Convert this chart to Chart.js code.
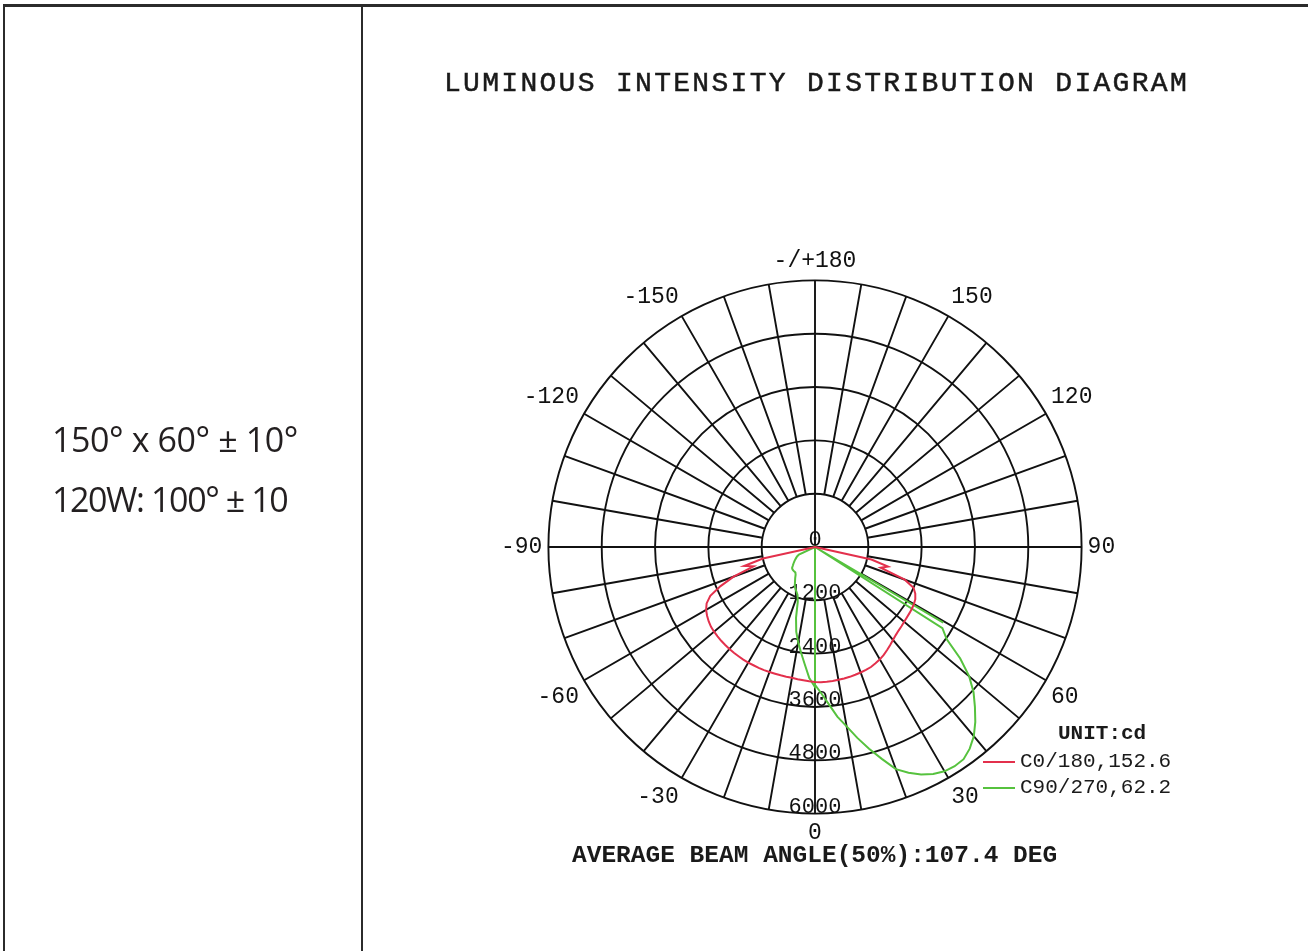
<!DOCTYPE html>
<html>
<head>
<meta charset="utf-8">
<title>Luminous intensity distribution</title>
<script src="https://cdn.jsdelivr.net/npm/chart.js@4.4.1/dist/chart.umd.min.js"></script>
<style>
  html, body { margin: 0; padding: 0; background: #fff; }
  #page { position: relative; width: 1308px; height: 951px; overflow: hidden; }
  #chartBox { position: absolute; left: 0; top: 0; width: 1308px; height: 951px; }
  .frame { position: absolute; left: 3px; top: 4px; width: 1400px; height: 1000px;
           border-top: 3px solid #2b2b2b; border-left: 2px solid #2b2b2b; }
  .divider { position: absolute; left: 361px; top: 4px; width: 2px; height: 960px; background: #2b2b2b; }
  .spec { position: absolute; left: 52px; font-family: 'Open Sans', sans-serif; font-size: 34px;
          line-height: 34px; color: #231f20; white-space: nowrap; }
  .mono { position: absolute; font-family: 'Liberation Mono', monospace; color: #1a1a1a;
          white-space: nowrap; }
  .key { position: absolute; height: 2px; }
</style>
</head>
<body>
<div id="page">
  <div id="chartBox"><canvas id="polar"></canvas></div>
  <div class="frame"></div>
  <div class="divider"></div>

  <div class="spec" style="top:422px; letter-spacing:-0.4px">150° x 60° ± 10°</div>
  <div class="spec" style="top:482px; letter-spacing:-1.4px">120W: 100° ± 10</div>

  <div class="mono" style="left:444px; top:70px; font-size:28px; line-height:28px; letter-spacing:2.3px; -webkit-text-stroke:0.5px #1a1a1a">LUMINOUS INTENSITY DISTRIBUTION DIAGRAM</div>

  <div class="mono" style="left:1058px; top:723px; font-size:21px; line-height:21px; font-weight:bold">UNIT:cd</div>
  <div id="legend"></div>

  <div class="mono" style="left:572px; top:844px; font-size:24.5px; line-height:24.5px; font-weight:bold">AVERAGE BEAM ANGLE(50%):107.4 DEG</div>
</div>

<script>
// angle grid: 0.5 deg steps, index 0 at the top (180), clockwise
const STEP = 0.5;
const gammaLabels = [];
for (let i = 0; i < 360 / STEP; i++) gammaLabels.push(180 - STEP * i);

const angleTickLabels = { 180: '-/+180', 150: '150', 120: '120', 90: '90', 60: '60', 30: '30',
                          0: '0', '-30': '-30', '-60': '-60', '-90': '-90', '-120': '-120', '-150': '-150' };
const tickValues = [0, 1200, 2400, 3600, 4800, 6000];

// C0/180 plane (cd)
const c0Gamma = [-80, -77.5, -75, -72.5, -70, -67.5, -65, -62.5, -60, -57.5, -55, -52.5, -50, -47.5, -45,
  -42.5, -40, -37.5, -35, -32.5, -30, -27.5, -25, -22.5, -20, -17.5, -15, -12.5, -10, -7.5, -5, -2.5, 0,
  2.5, 5, 7.5, 10, 12.5, 15, 17.5, 20, 22.5, 25, 27.5, 30, 32.5, 35, 37.5, 40, 42.5, 45, 47.5, 50,
  52.5, 55, 57.5, 60, 62.5, 65, 67.5, 70, 72.5, 75, 77.5, 80];
const c0Cd = [0, 1200, 1650, 1450, 1950, 2300, 2600, 2750, 2830, 2880, 2920, 2950, 2965, 2975, 2985,
  2990, 2995, 3000, 3000, 3005, 3005, 3000, 3000, 3000, 2995, 2990, 2990, 2990, 2990, 3000, 3010, 3025, 3040,
  3045, 3045, 3040, 3035, 3030, 3025, 3015, 3005, 2995, 2980, 2950, 2920, 2880, 2830, 2780, 2730, 2690, 2660, 2640, 2620,
  2605, 2595, 2585, 2570, 2545, 2490, 2400, 2150, 1550, 1700, 1300, 0];

// C90 half of the C90/270 plane
const c90Gamma = [-2.5, 0, 2.5, 5, 7.5, 10, 12.5, 15, 17.5, 20, 22.5, 25, 27.5, 30, 32.5, 35, 37.5, 40,
  42.5, 45, 47.5, 50, 52.5, 55, 57.5, 58, 59.5, 60];
const c90Cd = [0, 3100, 3300, 3550, 3850, 4100, 4400, 4700, 5000, 5320, 5500, 5650, 5760, 5830, 5850, 5830, 5720, 5560,
  5340, 5090, 4840, 4530, 4120, 3620, 3400, 0, 3350, 0];

// C270 half
const c270Gamma = [-70, -65, -62.5, -60, -57.5, -55, -52.5, -50, -47.5, -45, -42.5, -40, -37.5, -35, -32.5, -30,
  -27.5, -25, -22.5, -20, -17.5, -15, -12.5, -10, -7.5, -5, -2.5, 0, 2.5];
const c270Cd = [0, 400, 450, 490, 530, 570, 610, 650, 700, 715, 720, 722, 725, 760, 830, 900,
  985, 1040, 1090, 1150, 1290, 1650, 1950, 2180, 2400, 2650, 2950, 3150, 0];

const RED = '#e3304c';
const GREEN = '#56c23e';
const N = gammaLabels.length;

function toRadar(gammas, values) {
  const out = gammaLabels.map(() => null);
  gammas.forEach((g, k) => {
    let idx = Math.round((180 - g) / STEP);
    idx = ((idx % N) + N) % N;
    out[idx] = values[k];
  });
  return out;
}

function curve(label, color, gammas, values) {
  return {
    label, data: toRadar(gammas, values),
    borderColor: color, borderWidth: 2, fill: false,
    pointRadius: 0, pointHoverRadius: 0, spanGaps: true
  };
}

// radial value labels along the 0 deg spoke, drawn upright
const tickLabelPlugin = {
  id: 'tickLabels',
  beforeDatasetsDraw(chart) {
    const r = chart.scales.r;
    const ctx = chart.ctx;
    ctx.save();
    ctx.font = '22px "Liberation Mono"';
    ctx.fillStyle = '#111';
    ctx.textAlign = 'center';
    ctx.textBaseline = 'alphabetic';
    tickValues.forEach(v => {
      ctx.fillText(String(v), r.xCenter, r.yCenter + r.getDistanceFromCenterForValue(v) - 1);
    });
    ctx.restore();
  }
};

const spokeEvery = 10 / STEP;   // 10 deg
const axisEvery = 90 / STEP;    // main axes
const labelEvery = 30 / STEP;   // angle labels

const chart = new Chart(document.getElementById('polar'), {
  type: 'radar',
  data: {
    labels: gammaLabels,
    datasets: [
      curve('C0/180,152.6', RED, c0Gamma, c0Cd),
      curve('C90/270,62.2', GREEN, c90Gamma, c90Cd),
      curve('C90/270,62.2', GREEN, c270Gamma, c270Cd)
    ]
  },
  options: {
    responsive: true,
    maintainAspectRatio: false,
    animation: false,
    layout: { padding: { left: 495, top: 234, right: 185, bottom: 89 } },
    plugins: { legend: { display: false }, tooltip: { enabled: false } },
    scales: {
      r: {
        min: 0, max: 6000,
        ticks: { display: false, stepSize: 1200 },
        grid: { circular: true, color: '#111', lineWidth: 1.9 },
        angleLines: {
          color: '#111',
          lineWidth: ctx => ctx.index % spokeEvery === 0 ? 1.9 : 0,
          // spokes start at the first ring, except the two main axes
          borderDash: ctx => ctx.index % axisEvery === 0 ? [] :
            [0, ctx.chart.scales.r.getDistanceFromCenterForValue(1200), 1000, 0]
        },
        pointLabels: {
          padding: 6,
          color: '#111',
          font: { family: 'Liberation Mono', size: 23 },
          callback: (label, i) => i % labelEvery === 0 ? angleTickLabels[label] : ''
        }
      }
    }
  },
  plugins: [tickLabelPlugin]
});

// legend keys
const legend = document.getElementById('legend');
const seen = new Set();
let row = 0;
chart.data.datasets.forEach(ds => {
  if (seen.has(ds.label)) return;
  seen.add(ds.label);
  const y = 761 + row * 26;
  const key = document.createElement('div');
  key.className = 'key';
  key.style.cssText = `left:983px; top:${y}px; width:32px; background:${ds.borderColor}`;
  const txt = document.createElement('div');
  txt.className = 'mono';
  txt.style.cssText = `left:1020px; top:${y - 10}px; font-size:21px; line-height:21px`;
  txt.textContent = ds.label;
  legend.appendChild(key);
  legend.appendChild(txt);
  row++;
});
</script>
</body>
</html>
